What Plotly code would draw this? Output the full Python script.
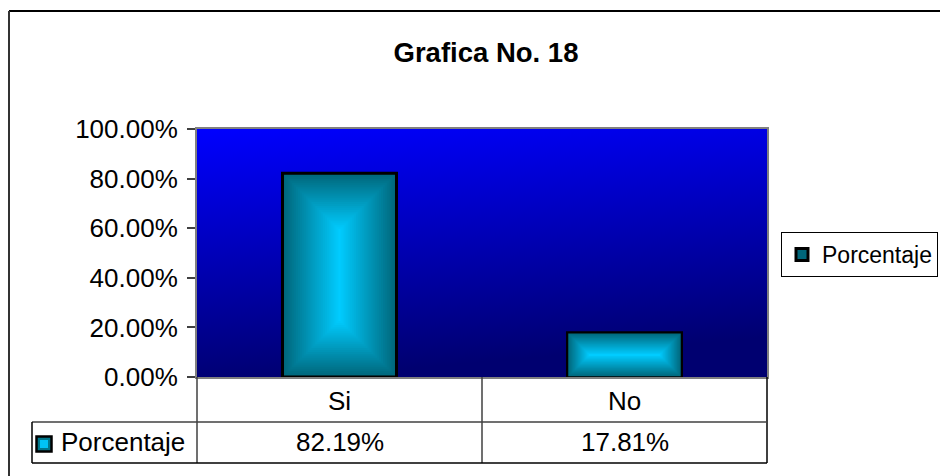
import base64
import plotly.graph_objects as go

# data
categories = ["Si", "No"]
porcentaje = [0.8219, 0.1781]
series_name = "Porcentaje"
title_text = "Grafica No. 18"
y_ticks = [0, 0.2, 0.4, 0.6, 0.8, 1.0]

# page geometry (window 948 x 476; the html body adds an 8px margin)
PAGE_W, PAGE_H = 948, 476
OFF = 8
W, H = PAGE_W - OFF, PAGE_H - OFF
PL, PR, PT, PB = 197, 767, 129, 377          # plot area edges, page pixels
PW, PH = PR - PL, PB - PT
BAR_W = 0.4                                    # gap width 150%
FONT = "Liberation Sans, Arial, sans-serif"
FS = 26
EDGE = (0, 102, 122)
CENTER = (0, 204, 255)
N_LAYERS = 30


def px2x(px):
    return (px - PL) / PW


def px2y(py):
    return (PB - py) / PH


def mix(t):
    r, g, b = (round(e + (c - e) * t) for e, c in zip(EDGE, CENTER))
    return f"rgb({r},{g},{b})"


fig = go.Figure()

# "from center" gradient: stacked overlay bars, each inset by the same pixel amount
px_per_cat = PW / len(categories)
bar_px = BAR_W * px_per_cat
for k in range(N_LAYERS):
    t = k / (N_LAYERS - 1)
    widths, bases, heights = [], [], []
    for v in porcentaje:
        d = 0.98 * t * min(bar_px, v * PH) / 2
        widths.append(BAR_W - 2 * d / px_per_cat)
        bases.append(d / PH)
        heights.append(v - 2 * d / PH)
    fig.add_trace(go.Bar(
        x=categories, y=heights, base=bases, width=widths,
        name=series_name, showlegend=(k == 0), hoverinfo="skip",
        marker=dict(color=mix(t),
                    line=dict(color="black", width=3 if k == 0 else 0)),
    ))

# plot area background gradient
svg = ('<svg xmlns="http://www.w3.org/2000/svg" width="100" height="100" '
       'preserveAspectRatio="none"><defs><linearGradient id="g" x1="0" y1="0" '
       'x2="0.2" y2="1"><stop offset="0" stop-color="#0000FF"/>'
       '<stop offset="1" stop-color="#000070"/></linearGradient></defs>'
       '<rect width="100" height="100" fill="url(#g)"/></svg>')
bg_src = "data:image/svg+xml;base64," + base64.b64encode(svg.encode()).decode()


def pline(x0, y0, x1, y1, color="#404040", width=1.5):
    return dict(type="line", xref="paper", yref="paper",
                x0=px2x(x0), x1=px2x(x1), y0=px2y(y0), y1=px2y(y1),
                line=dict(color=color, width=width))


def prect(x0, y0, x1, y1, fill, color="black", width=0):
    return dict(type="rect", xref="paper", yref="paper",
                x0=px2x(x0), x1=px2x(x1), y0=px2y(y0), y1=px2y(y1),
                fillcolor=fill, line=dict(color=color, width=width))


shapes = [
    # outer chart frame (only top and left edges are visible)
    pline(9, 11, PAGE_W + 5, 11, "black", 2),
    pline(9, 11, 9, PAGE_H + 5, "#333333", 2),
    # data table
    pline(PL, PB, PL, 463),
    pline((PL + PR) / 2, PB, (PL + PR) / 2, 463),
    pline(PR, PB, PR, 463, "black"),
    pline(32, 422, PR, 422),
    pline(32, 463, PR, 463, "black"),
    pline(32, 422, 32, 463, "black"),
    # legend key inside the table
    prect(36.5, 436.5, 51.5, 451.5, "#00788C", "black", 2.5),
    prect(40, 440, 48, 448, "#00C4F5"),
]

annotations = [
    dict(text=series_name, xref="paper", yref="paper", x=px2x(59), y=px2y(442),
         xanchor="left", yanchor="middle", showarrow=False,
         font=dict(family=FONT, size=FS, color="black")),
]
for c, v in zip(categories, porcentaje):
    annotations.append(dict(
        text=f"{v:.2%}", xref="x", yref="paper", x=c, y=px2y(442),
        xanchor="center", yanchor="middle", showarrow=False,
        font=dict(family=FONT, size=FS, color="black")))

fig.update_layout(
    width=W, height=H,
    margin=dict(l=PL - OFF, r=PAGE_W - PR, t=PT - OFF, b=PAGE_H - PB,
                pad=0, autoexpand=False),
    paper_bgcolor="white", plot_bgcolor="#000099",
    barmode="overlay",
    title=dict(text=f"<b>{title_text}</b>", x=px2x(486), xref="paper",
               xanchor="center", y=1 - (52 - OFF) / H, yanchor="middle",
               font=dict(family=FONT, size=27.5, color="black")),
    font=dict(family=FONT, size=FS, color="black"),
    xaxis=dict(type="category", range=[-0.5, 1.5], showgrid=False,
               showline=True, linecolor="#808080", linewidth=2, mirror=True,
               ticks="", tickfont=dict(size=FS), ticklabelstandoff=0),
    yaxis=dict(range=[0, 1], tickvals=y_ticks, tickformat=".2%",
               showgrid=False, zeroline=False, showline=True,
               linecolor="#808080", linewidth=2, mirror=True,
               ticks="outside", ticklen=8, tickwidth=1.5, tickcolor="#404040",
               tickfont=dict(size=FS), ticklabelstandoff=4),
    legend=dict(x=px2x(781), y=px2y(232), xanchor="left", yanchor="top",
                bordercolor="black", borderwidth=1, bgcolor="white",
                font=dict(family=FONT, size=23), itemwidth=30,
                tracegroupgap=0),
    images=[dict(source=bg_src, xref="paper", yref="paper", x=0, y=1,
                 sizex=1, sizey=1, sizing="stretch", layer="below",
                 xanchor="left", yanchor="top")],
    shapes=shapes,
    annotations=annotations,
)

fig.write_html("out.html")
